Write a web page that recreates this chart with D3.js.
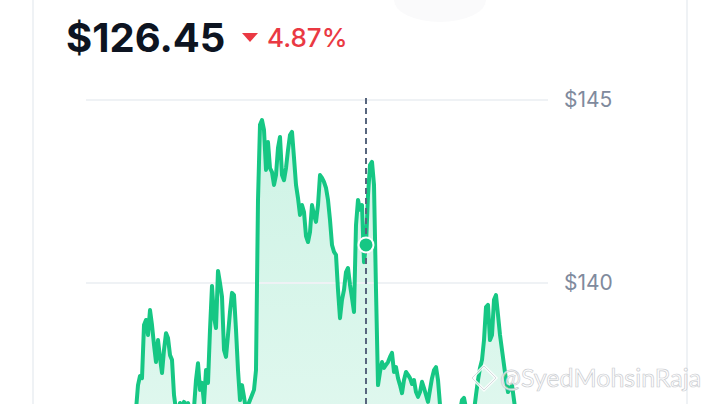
<!DOCTYPE html>
<html>
<head>
<meta charset="utf-8">
<script src="https://cdn.jsdelivr.net/npm/d3@7"></script>
<style>
  html, body { margin: 0; padding: 0; background: #fff; }
  svg { display: block; font-family: Inter, "Noto Sans", sans-serif; }
</style>
</head>
<body>
<div id="chart"></div>
<script>
var width = 720, height = 404;

// price header
var lastPrice = "$126.45";
var changePct = "4.87%";

// y axis ticks
var yTicks = [140, 145];

// price series (evenly spaced samples, oldest first)
var prices = [
  // early part, below the visible window
  136.2, 136.0, 135.9, 136.1, 136.3, 136.0, 135.8, 135.7, 135.9, 136.2,
  136.4, 136.1, 135.9, 136.0, 136.3, 136.5, 136.2, 136.0, 136.1, 136.3,
  136.4, 136.2, 136.3, 136.5, 136.5,
  // first bump
  136.53, 137.21, 137.46, 137.40, 138.85, 138.99, 138.58, 139.26, 138.85, 138.31,
  137.84, 138.44, 137.95, 137.54, 138.17, 138.63, 138.50, 138.03, 137.90, 136.94,
  136.53, 136.48, 136.72, 136.64, 136.75, 136.67, 136.72, 136.53, 136.48, 136.58,
  137.35, 137.81, 137.08, 137.27, 136.72, 137.62, 137.27, 138.72, 139.92, 139.07,
  138.77, 140.33, 140.00, 139.62, 138.17, 137.98, 138.58, 139.21, 139.73, 139.67,
  138.72, 137.62, 136.80, 137.21, 136.89, 136.53, 136.67,
  // big jump and plateau
  136.80, 136.94, 137.08, 137.62, 142.27, 144.32, 144.45, 144.18, 143.09, 143.85,
  143.14, 143.03, 142.68, 142.95, 143.69, 143.99, 142.95, 142.81, 143.14, 143.63,
  144.04, 144.13, 143.42, 142.68, 142.32, 141.86, 142.13, 141.94, 141.28, 141.12,
  141.39, 142.13, 141.86, 141.67, 142.13, 142.95, 142.87, 142.76, 142.60, 142.27,
  141.72, 141.04, 140.85, 140.77, 139.81, 139.04, 139.54, 139.81, 140.30, 140.41,
  139.95, 139.59, 139.21, 141.58, 142.27, 142.00, 142.13, 140.57, 141.04, 142.40,
  143.22, 143.31, 142.68, 139.81,
  // drop
  137.21, 137.57, 137.84, 137.68, 137.76, 137.84, 137.98, 138.09, 137.57, 137.70,
  137.40, 137.21, 136.99, 137.35, 137.57, 137.49, 137.40, 137.24, 137.35, 137.02,
  136.89, 137.02, 137.30, 137.13, 136.94, 136.75, 137.08, 137.40, 137.62, 137.70,
  137.35, 136.67, 136.48,
  136.3, 136.1, 136.2, 136.4, 136.0, 136.2, 136.3, 136.5, 136.5,
  136.80, 136.86, 136.58,
  136.4, 136.3, 136.5, 136.5,
  // second bump
  136.94, 137.35, 137.68, 137.90, 138.44, 139.34, 139.40, 138.44, 138.58, 139.54,
  139.67, 139.13, 138.58, 138.17, 137.76, 137.35, 137.02, 137.13, 137.21, 136.80,
  // tail, below the visible window
  136.4, 136.2, 136.1, 136.3, 136.0, 135.9, 136.1, 136.2, 136.0, 135.8,
  135.9, 136.1, 136.0, 136.2, 136.1, 135.9, 136.0
];
var hoverIndex = 140;

var svg = d3.select("#chart").append("svg")
            .attr("width", width)
            .attr("height", height);

// card edges
svg.append("ellipse")
   .attr("cx", 440).attr("cy", 0).attr("rx", 46).attr("ry", 22)
   .attr("fill", "#fafafb");
[33, 687].forEach(function(x){
  svg.append("line")
     .attr("x1", x).attr("x2", x).attr("y1", 0).attr("y2", height)
     .attr("stroke", "#eff2f5").attr("stroke-width", 2);
});

// header
svg.append("text")
   .attr("x", 66).attr("y", 52)
   .attr("font-size", 40).attr("font-weight", 700)
   .attr("fill", "#0d1421")
   .text(lastPrice);

svg.append("path")
   .attr("d", "M242,33 L258,33 L250,42 Z")
   .attr("fill", "#ea3943");

svg.append("text")
   .attr("x", 267).attr("y", 47)
   .attr("font-size", 26).attr("font-weight", 500)
   .attr("fill", "#ea3943")
   .text(changePct);

// scales
var x = d3.scaleLinear().domain([0, prices.length - 1]).range([86, 548]);
var y = d3.scaleLinear().domain([140, 145]).range([283, 100]);
var baseY = y(134);

var defs = svg.append("defs");
var grad = defs.append("linearGradient")
               .attr("id", "fillGrad")
               .attr("gradientUnits", "userSpaceOnUse")
               .attr("x1", 0).attr("x2", 0)
               .attr("y1", y(144.5)).attr("y2", height);
grad.append("stop").attr("offset", "0%").attr("stop-color", "#16c784").attr("stop-opacity", 0.21);
grad.append("stop").attr("offset", "100%").attr("stop-color", "#16c784").attr("stop-opacity", 0.14);

var area = d3.area()
             .x(function(d, i) { return x(i); })
             .y0(baseY)
             .y1(function(d) { return y(d); });

var line = d3.line()
             .x(function(d, i) { return x(i); })
             .y(function(d) { return y(d); });

svg.append("path")
   .datum(prices)
   .attr("d", area)
   .attr("fill", "url(#fillGrad)");

// grid
svg.append("g")
   .selectAll("line")
   .data(yTicks)
   .enter().append("line")
   .attr("x1", 86).attr("x2", 548)
   .attr("y1", function(d) { return y(d); })
   .attr("y2", function(d) { return y(d); })
   .attr("stroke", "#eff2f5")
   .attr("stroke-width", 2);

// axis labels on the right
var axis = d3.axisRight(y).tickValues(yTicks).tickSize(0).tickPadding(0)
             .tickFormat(function(d) { return "$" + d; });
var gAxis = svg.append("g")
               .attr("transform", "translate(564,0)")
               .call(axis);
gAxis.select(".domain").remove();
gAxis.selectAll("text")
     .attr("font-family", "Inter, 'Noto Sans', sans-serif")
     .attr("font-size", 21)
     .attr("fill", "#808a9d");

svg.append("path")
   .datum(prices)
   .attr("d", line)
   .attr("fill", "none")
   .attr("stroke", "#16c784")
   .attr("stroke-width", 4)
   .attr("stroke-linejoin", "round");

// hover marker
var hx = x(hoverIndex);
svg.append("line")
   .attr("x1", hx).attr("x2", hx)
   .attr("y1", 98).attr("y2", height)
   .attr("stroke", "#58667e")
   .attr("stroke-width", 2)
   .attr("stroke-dasharray", "6,4");

svg.append("circle")
   .attr("cx", hx).attr("cy", y(prices[hoverIndex]))
   .attr("r", 7.5)
   .attr("fill", "#16c784")
   .attr("stroke", "#fff")
   .attr("stroke-width", 2);

// watermark
var wm = svg.append("g").attr("opacity", 0.85);
wm.append("path")
  .attr("d", "M484,366 L496,378 L484,390 L472,378 Z")
  .attr("fill", "none")
  .attr("stroke", "#fff")
  .attr("stroke-width", 3);
wm.append("path")
  .attr("d", "M484,366 L496,378 L484,390 L472,378 Z")
  .attr("fill", "none")
  .attr("stroke", "#c9cdd2")
  .attr("stroke-width", 0.8);
wm.append("text")
  .attr("x", 500).attr("y", 387)
  .attr("font-size", 25)
  .attr("font-family", "Lato, sans-serif")
  .attr("fill", "#fff")
  .attr("stroke", "#bfc4c9")
  .attr("stroke-width", 0.7)
  .text("@SyedMohsinRaja");
</script>
</body>
</html>
